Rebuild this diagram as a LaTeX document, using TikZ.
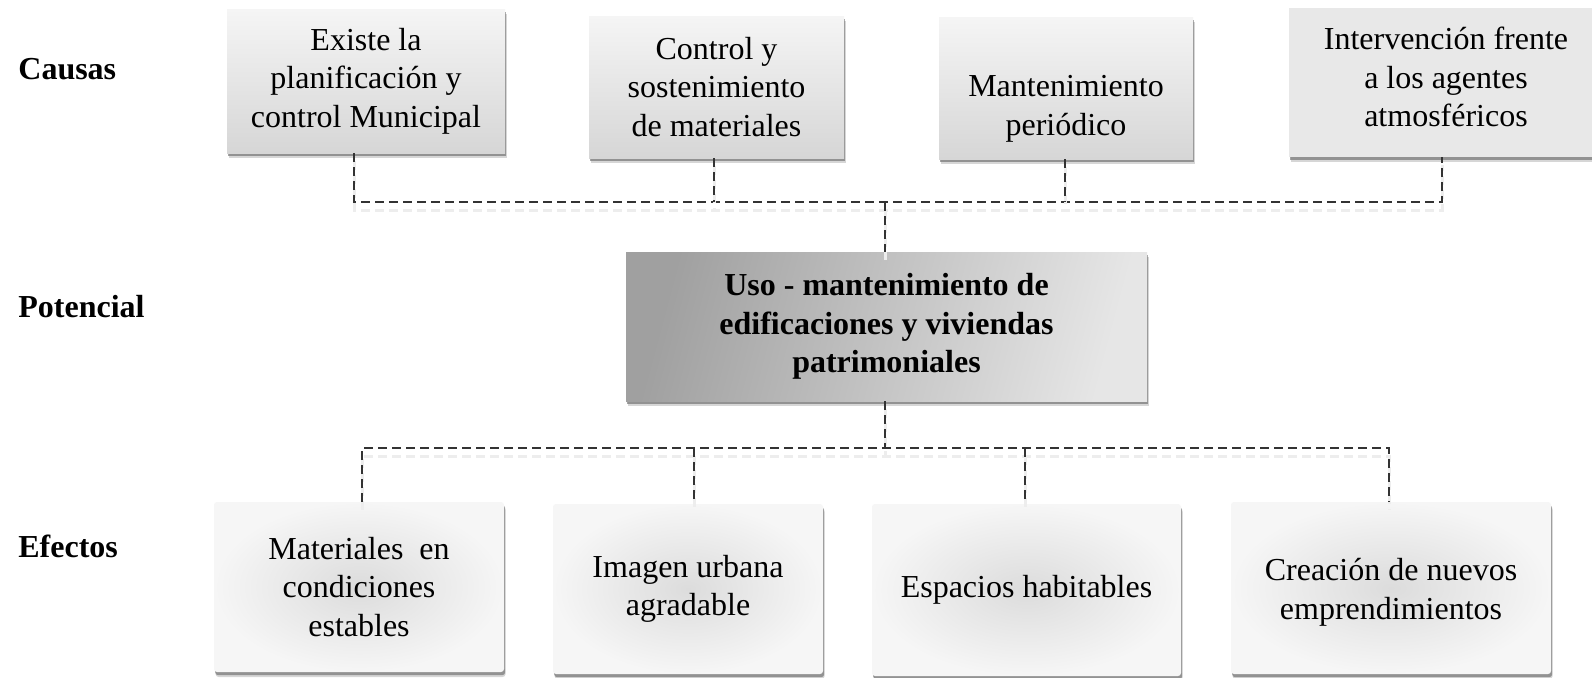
\documentclass[tikz,border=0pt]{standalone}
\usepackage{fontspec}
\setmainfont{Liberation Serif}
\usetikzlibrary{shadows}
\begin{document}
\begin{tikzpicture}[x=0.5pt,y=-0.5pt,
  every node/.style={font=\fontsize{16}{19.3}\selectfont, align=center, inner sep=0pt},
  shad/.style={drop shadow={shadow xshift=0.8pt, shadow yshift=-2.5pt, fill=black!45, opacity=0.35},
               drop shadow={shadow xshift=0.6pt, shadow yshift=-1.6pt, fill=black!60, opacity=0.6}},
  topbox/.style={shad, rectangle, top color={rgb,255:red,245;green,245;blue,245}, bottom color={rgb,255:red,214;green,214;blue,214}},
  flatbox/.style={shad, rectangle, fill={rgb,255:red,232;green,232;blue,232}},
  midbox/.style={shad, rectangle, left color={rgb,255:red,160;green,160;blue,160}, right color={rgb,255:red,230;green,230;blue,230}, shading angle=75, font=\fontsize{16}{19.3}\selectfont\bfseries},
  botbox/.style={shad, rectangle, rounded corners=1.5pt, inner color={rgb,255:red,220;green,220;blue,220}, outer color={rgb,255:red,246;green,246;blue,246}},
  boxtext/.style={font=\fontsize{16}{19.3}\selectfont},
  rowlabel/.style={anchor=west, font=\fontsize{16}{19.3}\selectfont\bfseries},
  conn/.style={draw=black!80, line width=0.65pt, dash pattern=on 4.5pt off 2.5pt,
               preaction={draw=black!7, line width=1.5pt, dash pattern=on 4.5pt off 2.5pt, transform canvas={yshift=-4pt}}}
]
\useasboundingbox (0,0) rectangle (1592,677);
\fill[white] (0,0) rectangle (1592,677);

% row labels
\node[rowlabel] (lc) at (18,69) {Causas};
\node[rowlabel] (lp) at (18,307) {Potencial};
\node[rowlabel] (le) at (18,546) {Efectos};

% causes
\node[topbox, minimum width=139pt, minimum height=72pt] (A) at (366,81) {Existe la\\planificación y\\control Municipal};
\node[topbox, minimum width=127.5pt, minimum height=71pt] (B) at (716.5,87) {Control y\\sostenimiento\\de materiales};
\node[topbox, minimum width=127pt, minimum height=71pt] (C) at (1066,88) {};
\node[boxtext] (Ct) at (1066,109) {Mantenimiento\\periódico};
\node[flatbox, minimum width=157pt, minimum height=74.5pt] (D) at (1446,82.5) {};
\node[boxtext] (Dt) at (1446,77) {Intervención frente\\a los agentes\\atmosféricos};

% central
\node[midbox, minimum width=260.5pt, minimum height=74.5pt] (M) at (886.5,326.5) {Uso - mantenimiento de\\edificaciones y viviendas\\patrimoniales};

% effects
\node[botbox, minimum width=145pt, minimum height=85pt] (E) at (359,587) {Materiales\ \ en\\condiciones\\estables};
\node[botbox, minimum width=135pt, minimum height=85pt] (F) at (688,589) {Imagen urbana\\agradable};
\node[botbox, minimum width=154.5pt, minimum height=86pt] (G) at (1026.5,590) {Espacios habitables};
\node[botbox, minimum width=160pt, minimum height=86pt] (H) at (1391,588) {};
\node[boxtext] (Ht) at (1391,592) {Creación de nuevos\\emprendimientos};

% bus coordinates
\coordinate (ta) at (354,202);
\coordinate (tb) at (714,202);
\coordinate (tc) at (1065,202);
\coordinate (td) at (1442,202);
\coordinate (tm) at (885,202);
\coordinate (ba) at (362,448);
\coordinate (bb) at (694,448);
\coordinate (bc) at (1025,448);
\coordinate (bd) at (1389,448);
\coordinate (bm) at (885,448);

% top connectors
\draw[conn] (A.south -| ta) -- (ta) -- (td) -- (D.south -| td);
\draw[conn] (B.south -| tb) -- (tb);
\draw[conn] (C.south -| tc) -- (tc);
\draw[conn] (tm) -- (M.north -| tm);

% bottom connectors
\draw[conn] (M.south -| bm) -- (bm);
\draw[conn] (E.north -| ba) -- (ba) -- (bd) -- (H.north -| bd);
\draw[conn] (bb) -- (F.north -| bb);
\draw[conn] (bc) -- (G.north -| bc);
\end{tikzpicture}
\end{document}
